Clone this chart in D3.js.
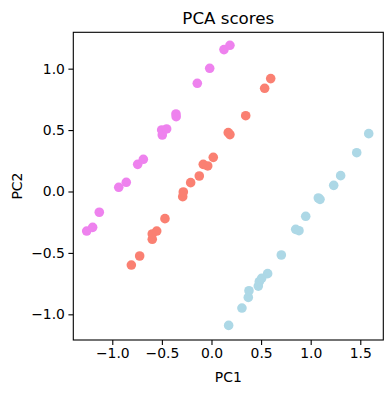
<!DOCTYPE html>
<html><head><meta charset="utf-8">
<script src="https://cdn.jsdelivr.net/npm/d3@7"></script>
<style>body{margin:0;background:#fff}svg{display:block}text{font-family:"DejaVu Sans",sans-serif;fill:#000}</style>
</head><body>
<script>
const groups = ["violet", "salmon", "lightblue"];
const violetPC1 = [-1.258,-1.198,-1.131,-0.935,-0.859,-0.744,-0.687,-0.502,-0.496,-0.452,-0.358,-0.356,-0.143,-0.018,0.126,0.186];
const violetPC2 = [-0.322,-0.292,-0.169,0.034,0.075,0.221,0.262,0.501,0.460,0.509,0.631,0.609,0.881,1.003,1.155,1.190];
const salmonPC1 = [-0.808,-0.724,-0.597,-0.597,-0.552,-0.469,-0.290,-0.284,-0.210,-0.123,-0.083,-0.038,0.018,0.169,0.186,0.345,0.536,0.597];
const salmonPC2 = [-0.599,-0.525,-0.389,-0.346,-0.322,-0.221,-0.042,-0.004,0.072,0.126,0.221,0.208,0.278,0.479,0.463,0.617,0.840,0.919];
const lightbluePC1 = [0.173,0.307,0.371,0.378,0.472,0.482,0.506,0.566,0.704,0.849,0.882,0.950,1.077,1.094,1.232,1.302,1.464,1.585];
const lightbluePC2 = [-1.090,-0.949,-0.862,-0.808,-0.770,-0.734,-0.707,-0.669,-0.517,-0.308,-0.319,-0.202,-0.053,-0.064,0.050,0.129,0.316,0.471];
const xTicks = [-1.0,-0.5,0.0,0.5,1.0,1.5];
const yTicks = [-1.0,-0.5,0.0,0.5,1.0];
const xDomain = [-1.393, 1.732];
const yDomain = [-1.209, 1.296];

const W = 392, H = 393;
const L = 73.3, R = 383.3, T = 32.3, B = 340;
const svg = d3.select("body").append("svg").attr("width", W).attr("height", H);
const x = d3.scaleLinear().domain(xDomain).range([L, R]);
const y = d3.scaleLinear().domain(yDomain).range([B, T]);
const fmt = d => d3.format(".1f")(d).replace("-", "\u2212");

const data = [
  {c: "#EE82EE", xs: violetPC1, ys: violetPC2},
  {c: "#FA8072", xs: salmonPC1, ys: salmonPC2},
  {c: "#ADD8E6", xs: lightbluePC1, ys: lightbluePC2}
];
data.forEach(g => {
  svg.append("g").selectAll("circle").data(g.xs.map((v, i) => [v, g.ys[i]])).join("circle")
    .attr("cx", d => x(d[0])).attr("cy", d => y(d[1])).attr("r", 4.8).attr("fill", g.c);
});

const xa = svg.append("g").attr("transform", `translate(0,${B})`)
  .call(d3.axisBottom(x).tickValues(xTicks).tickFormat(fmt).tickSize(4.9).tickPadding(3.5));
const ya = svg.append("g").attr("transform", `translate(${L},0)`)
  .call(d3.axisLeft(y).tickValues(yTicks).tickFormat(fmt).tickSize(4.9).tickPadding(3.5));
[xa, ya].forEach(a => {
  a.select(".domain").remove();
  a.selectAll("line").attr("stroke", "#000").attr("stroke-width", 1.1);
  a.selectAll("text").style("font-size", "13.9px").style("font-family", "DejaVu Sans").attr("fill", "#000");
});
svg.append("rect").attr("x", L).attr("y", T).attr("width", R - L).attr("height", B - T)
  .attr("fill", "none").attr("stroke", "#000").attr("stroke-width", 1.1);

svg.append("text").attr("x", (L + R) / 2).attr("y", 24).attr("text-anchor", "middle")
  .style("font-size", "16.7px").text("PCA scores");
svg.append("text").attr("x", (L + R) / 2).attr("y", 382).attr("text-anchor", "middle")
  .style("font-size", "13.9px").text("PC1");
svg.append("text").attr("transform", `translate(22,${(T + B) / 2}) rotate(-90)`).attr("text-anchor", "middle")
  .style("font-size", "13.9px").text("PC2");
</script>
</body></html>
